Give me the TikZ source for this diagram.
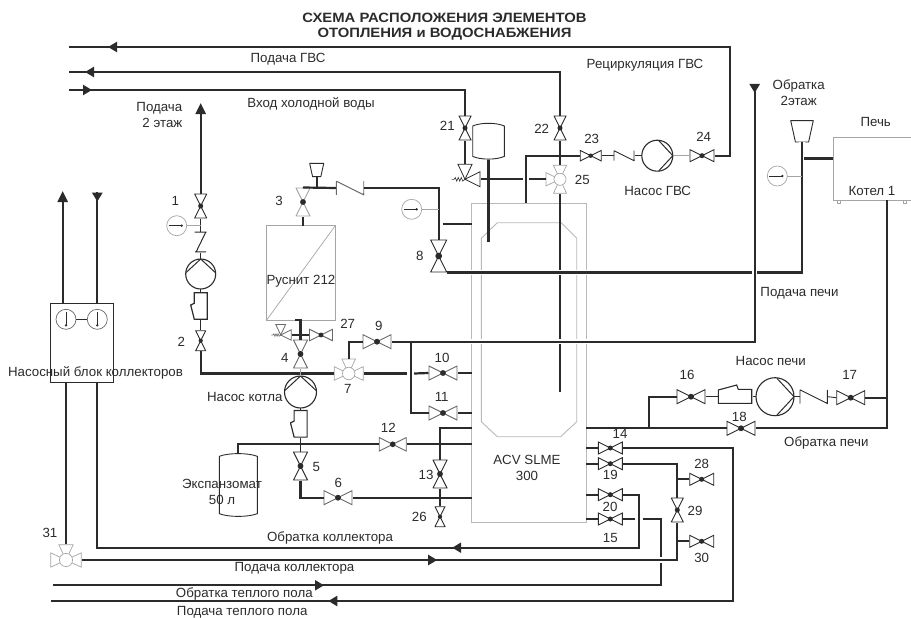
\documentclass[tikz,border=0pt]{standalone}
\usepackage{fontspec}
\setmainfont{Liberation Sans}
\usetikzlibrary{arrows.meta,positioning,calc,decorations.markings}
\definecolor{dk}{RGB}{43,43,43}
\definecolor{md}{RGB}{105,105,105}
\definecolor{lt}{RGB}{165,165,165}
\definecolor{tankc}{RGB}{185,185,185}
\tikzset{
    pipe/.style={color=dk, line width=2.2pt},
    link/.style={color=dk, line width=0.9pt},
    tap/.style={color=lt, line width=0.8pt},
    hop/.style={preaction={draw=white, line width=5.2pt}},
    tip/.style={-{Triangle[length=11pt,width=10pt]}},
    arrowat/.style={postaction={decorate, decoration={markings, mark=at position #1 with {\arrow{Triangle[length=9pt,width=10pt]}}}}},
    txt/.style={font=\fontsize{13.3}{16.3}\selectfont, text=dk, inner sep=0pt, align=center},
    part/.style={rectangle, inner sep=0pt, outer sep=0pt},
    valveh/.style 2 args={part, minimum width={2*#1+1}, minimum height={#1+1}, path picture={
        \draw[draw=#2, fill=white, line width=0.9pt, shift={(path picture bounding box.center)}, x=#1pt, y=#1pt]
            (-1,-.5) -- (1,.5) -- (1,-.5) -- (-1,.5) -- cycle;
        \fill[dk, shift={(path picture bounding box.center)}, x=#1pt, y=#1pt] (0,0) circle (.21);}},
    valvev/.style 2 args={part, minimum width={#1+1}, minimum height={2*#1+1}, path picture={
        \draw[draw=#2, fill=white, line width=0.9pt, shift={(path picture bounding box.center)}, x=#1pt, y=#1pt]
            (-.5,-1) -- (.5,1) -- (-.5,1) -- (.5,-1) -- cycle;
        \fill[dk, shift={(path picture bounding box.center)}, x=#1pt, y=#1pt] (0,0) circle (.21);}},
    teeup/.style 2 args={part, minimum size={2*#1+1}, path picture={
        \begin{scope}[draw=#2, fill=white, line width=0.7pt, shift={(path picture bounding box.center)}, x=#1pt, y=-#1pt]
        \filldraw (-1,-.47) -- (-1,.47) -- (0,0) -- cycle;
        \filldraw (1,-.47) -- (1,.47) -- (0,0) -- cycle;
        \filldraw (-.47,-1) -- (.47,-1) -- (0,0) -- cycle;
        \filldraw (0,0) circle (.43);
        \end{scope}}},
    teeleft/.style 2 args={part, minimum size={2*#1+1}, path picture={
        \begin{scope}[draw=#2, fill=white, line width=0.7pt, shift={(path picture bounding box.center)}, x=#1pt, y=-#1pt]
        \filldraw (-1,-.47) -- (-1,.47) -- (0,0) -- cycle;
        \filldraw (-.47,-1) -- (.47,-1) -- (0,0) -- cycle;
        \filldraw (-.47,1) -- (.47,1) -- (0,0) -- cycle;
        \filldraw (0,0) circle (.43);
        \end{scope}}},
    safety/.style 2 args={part, minimum size={2*#1+1}, path picture={
        \begin{scope}[draw=#2, fill=white, line width=0.8pt, shift={(path picture bounding box.center)}, x=#1pt, y=-#1pt]
        \filldraw (-.47,-1) -- (.47,-1) -- (0,0) -- cycle;
        \filldraw (1,-.5) -- (1,.5) -- (0,0) -- cycle;
        \draw[line width=0.6pt] (-.9,0) -- (-.72,0) -- (-.65,-.12) -- (-.55,.12) -- (-.45,-.12) -- (-.35,.12) -- (-.25,-.12) -- (-.15,.12) -- (0,0);
        \end{scope}}},
    pumpup/.style={circle, draw=dk, line width=1.1pt, inner sep=0pt, outer sep=0pt, minimum size={2*#1}, path picture={
        \draw[dk, line width=1pt, shift={(path picture bounding box.center)}, x=#1pt, y=-#1pt]
            (-.97,-.1) -- (0,-1) -- (.97,-.1);}},
    pumpright/.style={circle, draw=dk, line width=1.1pt, inner sep=0pt, outer sep=0pt, minimum size={2*#1}, path picture={
        \draw[dk, line width=1pt, shift={(path picture bounding box.center)}, x=#1pt, y=-#1pt]
            (.1,-.97) -- (1,0) -- (.1,.97);}},
    trapv/.style={part, minimum width=21, minimum height=28, path picture={
        \draw[dk, fill=white, line width=1.2pt, shift={(path picture bounding box.center)}]
            (-6.4,-13.3) -- (-6.4,-2.7) -- (-10,-1) -- (-6.4,13.3) -- (6.6,13.3) -- (6.6,-13.3) -- cycle;}},
    traph/.style={part, minimum width=35, minimum height=25, path picture={
        \draw[dk, fill=white, line width=1.1pt, shift={(path picture bounding box.center)}]
            (-16.7,6.7) -- (-16.7,-6.7) -- (1.7,-11.7) -- (3.3,-7.3) -- (16.7,-7.3) -- (16.7,6.7) -- cycle;}},
    checkh/.style 2 args={part, minimum width={2*#1+1}, minimum height={#1+2}, path picture={
        \draw[draw=#2, line width=0.9pt, shift={(path picture bounding box.center)}, x=#1pt, y=-#1pt]
            (-1,-.5) -- (-1,.5) (-1,-.5) -- (1,.5) (1,-.5) -- (1,.5);
        \fill[#2, shift={(path picture bounding box.center)}, x=#1pt, y=-#1pt] (1,.45) circle (.09);}},
    checkv/.style={part, minimum width=14, minimum height=21, path picture={
        \draw[dk, line width=1pt, shift={(path picture bounding box.center)}]
            (-6,-9.8) -- (6,-9.8) (5,-9.8) -- (-4.5,9.8) (-5.5,9.8) -- (5.5,9.8);}},
    funnel/.style={part, minimum width={1.1*#1}, minimum height={#1+1}, path picture={
        \draw[dk, fill=white, line width=0.9pt, shift={(path picture bounding box.center)}, x=#1pt, y=-#1pt]
            (-.53,-.5) -- (.53,-.5) -- (.31,.5) -- (-.31,.5) -- cycle;}},
    vessel/.style 2 args={part, minimum width={2*#1+1}, minimum height={2*#2+1}, path picture={
        \draw[dk, fill=white, line width=0.9pt, shift={(path picture bounding box.center)}]
            (-#1,-#2+3) .. controls (-#1/2,-#2-.6) and (#1/2,-#2-.6) .. (#1,-#2+3) -- (#1,#2-3)
            .. controls (#1/2,#2+.6) and (-#1/2,#2+.6) .. (-#1,#2-3) -- cycle;}},
    gaugeh/.style={circle, draw=lt, fill=white, line width=0.7pt, inner sep=0pt, outer sep=0pt, minimum size=20pt, path picture={
        \draw[dk, line width=0.6pt, shift={(path picture bounding box.center)}] (-8,0) -- (5,0);
        \fill[dk, shift={(path picture bounding box.center)}] (5,0) circle (1.3);}},
    gaugev/.style={circle, draw=md, fill=white, line width=0.7pt, inner sep=0pt, outer sep=0pt, minimum size=20pt, path picture={
        \draw[dk, line width=0.6pt, shift={(path picture bounding box.center)}] (0,-7) -- (0,6);
        \fill[dk, shift={(path picture bounding box.center)}] (0,6) circle (1.3);}},
    panel/.style={rectangle, draw=#1, line width=0.9pt, inner sep=0pt, outer sep=0pt}
}
\begin{document}
\begin{tikzpicture}[x=1pt, y=-1pt]
    \path[use as bounding box, clip] (0,0) rectangle (911,618);

    % heaters and tanks
    \node[panel=tankc, minimum width=114.3, minimum height=319] (slme) at (529,362.7) {};
    \draw[tankc, line width=0.9pt] (497.3,222.7) -- (561.3,222.7) -- (576.7,238.3) -- (576.7,421.7) -- (560.7,436.7)
        -- (497.3,436.7) -- (481.3,421.7) -- (481.3,238.3) -- cycle;
    \node[panel=lt, minimum width=68.6, minimum height=94.3] (rusnit) at (301,272.85) {};
    \draw[lt, line width=0.7pt] (rusnit.north east) -- (rusnit.south west);
    \node[panel=lt, minimum width=78, minimum height=62.7] (boiler) at (872.3,168.7) {};
    \node[panel=lt, minimum width=3.5, minimum height=3] (foota) at (839,201.5) {};
    \node[panel=lt, minimum width=3.5, minimum height=3] (footb) at (905,201.5) {};
    \node[panel=dk, minimum width=63.3, minimum height=78.7] (block) at (81.7,342.7) {};
    \node[vessel={15.8}{18.2}] (tankh) at (488.5,141.2) {};
    \node[vessel={19}{31.7}] (tankx) at (238.3,485) {};

    % valves
    \foreach \n/\x/\y/\s/\c in {6/338/497.7/14/md, 9/377/341.7/14/md, 10/443/373/14/md, 11/443/413/14/md,
        12/392.7/444.3/13.5/md, 14/610.3/448/12/dk, 15/610.3/519/12/dk, 16/691/396.7/14/dk,
        17/850.7/397.7/14/dk, 18/741/428.3/14/dk, 19/610.3/463.7/12/dk, 20/610.3/494.7/12/dk,
        23/590.7/155.7/10.5/dk, 24/702/155.7/12/dk, 27/321/335/11.5/md, 28/701.7/479.3/12/dk, 30/701.7/541.3/12/dk}
        \node[valveh={\s}{\c}] (v\n) at (\x,\y) {};
    \foreach \n/\x/\y/\s/\c in {1/200.7/206/12/dk, 2/200.7/340.7/10/dk, 3/303/202/14/lt, 4/300.5/354/14/md,
        5/300.5/466/14/dk, 8/438.7/256/16/dk, 13/440/474/14/dk, 21/465/128/12/dk, 22/560/128/12/dk,
        26/440/516.7/10/dk, 29/677.3/510/12/dk}
        \node[valvev={\s}{\c}] (v\n) at (\x,\y) {};
    \node[teeup={14.5}{lt}] (v7) at (348.7,373.5) {};
    \node[teeup={15.3}{lt}] (v31) at (66,560) {};
    \node[teeleft={14}{lt}] (v25) at (560,179.3) {};
    \node[safety={15}{dk}] (vsafe) at (465,179.3) {};
    \node[safety={10.5}{md}] (vsafeb) at (280.7,335) {};

    % pumps and fittings
    \node[pumpup=15] (pumpa) at (200.7,274) {};
    \node[pumpup=16] (pumpk) at (300.5,392) {};
    \node[pumpright=15.5] (pumpg) at (657.3,155.7) {};
    \node[pumpright=19] (pumpp) at (775,396.7) {};
    \node[trapv] (trapa) at (200.7,306) {};
    \node[trapv] (trapk) at (300.5,423.8) {};
    \node[traph] (trapp) at (735,396.7) {};
    \node[checkv] (chka) at (200.7,242) {};
    \node[checkh={13.7}{md}] (chkb) at (350,188) {};
    \node[checkh={10}{dk}] (chkg) at (624,155.7) {};
    \node[checkh={13.7}{dk}] (chkp) at (813.7,396.7) {};
    \node[funnel=21.3] (cone) at (802,131.3) {};
    \node[funnel=13.3] (cones) at (316.7,170) {};
    \node[gaugeh] (gauga) at (176.7,225.7) {};
    \node[gaugeh] (gaugb) at (411.7,209.3) {};
    \node[gaugeh] (gaugc) at (777.3,176) {};
    \node[gaugev] (gaugl) at (66,319.3) {};
    \node[gaugev] (gaugr) at (97.3,319.3) {};

    % free ends and tees
    \coordinate (recout) at (69.3,47);
    \coordinate (reccorner) at (730,47);
    \coordinate (gvsout) at (69.3,72);
    \coordinate (coldin) at (69.3,90);
    \coordinate (sup2) at (200.7,103);
    \coordinate (upa) at (62.7,191);
    \coordinate (dna) at (97.3,191.7);
    \coordinate (pechtop) at (754.7,85);
    \coordinate (dipa) at (488.5,241.7);
    \coordinate (dipb) at (560,391.7);
    \coordinate (portg) at (526,203.3);
    \coordinate (port8) at (442.7,224);
    \coordinate (port13) at (471.7,428.3);
    \coordinate (portb) at (804,158.5);
    \coordinate (boilout) at (886.7,200);
    \coordinate (tee11) at (410.7,341.7);
    \coordinate (tee16) at (649,428.3);
    \coordinate (cross373) at (410.7,373.5);
    \coordinate (cross15) at (639.3,519);
    \coordinate (corner14) at (733.3,601);
    \coordinate (ufhout) at (51,601);
    \coordinate (ufhin) at (53.3,585.3);
    \coordinate (corner15) at (661,519);
    \coordinate (ret) at (639.3,547.7);
    \coordinate (retb) at (97.3,547.7);

    % pipes under the crossings
    \draw[pipe] (tankh.south) -- (dipa);
    \draw[pipe] (v25.south) -- (dipb);
    \draw[pipe] (vsafe.east) -- (v25.west);
    \draw[pipe, hop] (v23.west) -| (portg);
    \draw[pipe, arrowat=270.7pt] (ufhin) -| (corner15) -- ($(cross15)+(4,0)$);
    \draw[pipe] ($(cross15)+(-4,0)$) -- (v15.east);
    \draw[pipe, hop, arrowat=355.4pt] (v31.east) -| (v29.south);
    \draw[pipe, arrowat=256.6pt] (v20.east) -| (ret) -- (retb) -- (block.south -| retb);
    \draw[pipe, hop] (cone.south) |- (v8.south east);
    \draw[pipe, hop, arrowat=8pt] (pechtop) |- (v9.east);

    % hot water and recirculation
    \draw[pipe, arrowat=-38.7pt] (v24.east) -| (reccorner) -- (recout);
    \draw[pipe, arrowat=-15.7pt] (v22.north) |- (gvsout);
    \draw[pipe, arrowat=22.7pt] (coldin) -| (v21.north);
    \draw[pipe] (v21.south) -- (vsafe.north);
    \draw[pipe] (v22.south) -- (v25.north);
    \draw[link] (v23.east) -- (chkg.west);
    \draw[link] (chkg.east) -- (pumpg.west);
    \draw[color=lt, line width=1.4pt] (pumpg.east) -- (v24.west);

    % refill line
    \draw[pipe] (rusnit.north -| v3.south) -- (v3.south);
    \draw[pipe] (v3.north) -- (chkb.west);
    \draw[pipe] (cones.south) -- (cones.south |- v3.north);
    \draw[pipe] (chkb.east) -| (v8.north);
    \draw[pipe] (port8) -- (port8 -| slme.west);
    \draw[tap] (gaugb.east) -- (gaugb.east -| v8.north);

    % second floor circuit
    \draw[pipe, tip] (v1.north) -- (sup2);
    \draw[link] (v1.south) -- (chka.north);
    \draw[link] (chka.south) -- (pumpa.north);
    \draw[link] (pumpa.south) -- (trapa.north);
    \draw[link] (trapa.south) -- (v2.north);
    \draw[tap] (gauga.east) -- (gauga.east -| v1.south);
    \draw[pipe] (v2.south) |- (v7.west);

    % boiler circuit
    \draw[pipe] ($(rusnit.south)+(-6,0)$) -| (v4.north);
    \draw[pipe] (vsafeb.east) -- (v27.west);
    \draw[link, color=lt] (v4.south) -- (pumpk.north);
    \draw[link] (pumpk.south) -- (trapk.north);
    \draw[link] (trapk.south) -- (v5.north);
    \draw[pipe] (tankx.north) |- (v12.west);
    \draw[pipe] (v12.east) -- (v12.east -| slme.west);
    \draw[pipe] (v5.south) |- (v6.west);
    \draw[pipe] (v6.east) -- (v6.east -| slme.west);
    \draw[pipe] (v7.north) |- (v9.west);
    \draw[pipe] (v7.east) -- ($(cross373)+(-3.5,0)$);
    \draw[pipe] ($(cross373)+(3.5,0)$) -- (v10.west);
    \draw[pipe] (tee11) |- (v11.west);
    \draw[pipe] (v10.east) -- (v10.east -| slme.west);
    \draw[pipe] (v11.east) -- (v11.east -| slme.west);
    \draw[pipe] (v13.north) |- (port13);
    \draw[pipe] (v13.south) -- (v26.north);

    % stove circuit
    \draw[pipe] (portb) -- (portb -| boiler.west);
    \draw[tap] (gaugc.east) -- (gaugc.east -| cone.south);
    \draw[pipe] (slme.east |- v18.west) -- (v18.west);
    \draw[pipe] (v18.east) -| (boilout);
    \draw[pipe] (tee16) |- (v16.west);
    \draw[link] (v16.east) -- (trapp.west);
    \draw[link] (trapp.east) -- (pumpp.west);
    \draw[link] (pumpp.east) -- (chkp.west);
    \draw[link] (chkp.east) -- (v17.west);
    \draw[pipe] (v17.east) -- (v17.east -| boilout);

    % collectors and floor heating
    \draw[pipe] (slme.east |- v14.west) -- (v14.west);
    \draw[pipe] (slme.east |- v19.west) -- (v19.west);
    \draw[pipe] (slme.east |- v20.west) -- (v20.west);
    \draw[pipe] (slme.east |- v15.west) -- (v15.west);
    \draw[pipe, arrowat=-277.3pt] (v14.east) -| (corner14) -- (ufhout);
    \draw[pipe] (v19.east) -| (v29.north);
    \draw[pipe] (v28.west -| v29.north) -- (v28.west);
    \draw[pipe] (v30.west -| v29.south) -- (v30.west);
    \draw[pipe] (block.south -| v31.north) -- (v31.north);
    \draw[link] (gaugl.east) -- (gaugr.west);
    \draw[pipe, tip] (block.north -| upa) -- (upa);
    \draw[pipe, arrowat=10pt] (dna) -- (block.north -| dna);

    % labels
    \node[txt, font=\fontsize{13.5}{15}\selectfont\bfseries\addfontfeature{FakeStretch=1.1}] (title) at (444.5,26.5) {СХЕМА РАСПОЛОЖЕНИЯ ЭЛЕМЕНТОВ\\ОТОПЛЕНИЯ и ВОДОСНАБЖЕНИЯ};
    \foreach \n/\x/\y/\t in {tgvs/288/59/Подача ГВС, tcold/311/103.5/Вход холодной воды, trec/645/65/Рециркуляция ГВС,
        tpech/875.7/122/Печь, tboil/872/191/Котел 1, tpg/657.7/190.7/Насос ГВС, tsup/799.5/293.3/Подача печи,
        trus/301/281/Руснит 212, tblock/95.5/372.7/Насосный блок коллекторов, tpk/244.8/396.7/Насос котла,
        trk/330/537.7/Обратка коллектора, tsk/294.5/568.7/Подача коллектора, tru/244.3/593.7/Обратка теплого пола,
        tsu/242.2/612.7/Подача теплого пола, tpp/770.7/361/Насос печи, trp/826.3/443.3/Обратка печи}
        \node[txt] (\n) at (\x,\y) {\t};
    \node[txt, align=right, anchor=east] (tsup2) at (182.5,115) {Подача\\2 этаж};
    \node[txt] (tret2) at (798.7,92.5) {Обратка\\2этаж};
    \node[txt] (tacv) at (527,468.2) {ACV SLME\\300};
    \node[txt] (texp) at (222,491.7) {Экспанзомат\\50 л};
    \foreach \t/\x/\y in {1/175.3/201, 2/181.3/342, 3/279/201.3, 4/284.7/357.7, 5/316.3/467.3, 6/338.3/482.7,
        7/347.7/388.7, 8/419.7/256, 9/378.7/326, 10/442/357.7, 11/441.7/397, 12/388.3/428.3, 13/426/475,
        14/620/434, 15/610.3/537.7, 16/687/374.7, 17/849.7/374.7, 18/739.3/417.3, 19/610.3/475, 20/610/506.7,
        21/447.3/126, 22/541.7/129.3, 23/591.7/138.7, 24/703.7/136.7, 25/582.3/180, 26/419.3/516.7,
        27/347.7/324, 28/701.7/464.3, 29/695/511, 30/701.7/558, 31/50/533.3}
        \node[txt] (n\t) at (\x,\y) {\t};
\end{tikzpicture}
\end{document}
